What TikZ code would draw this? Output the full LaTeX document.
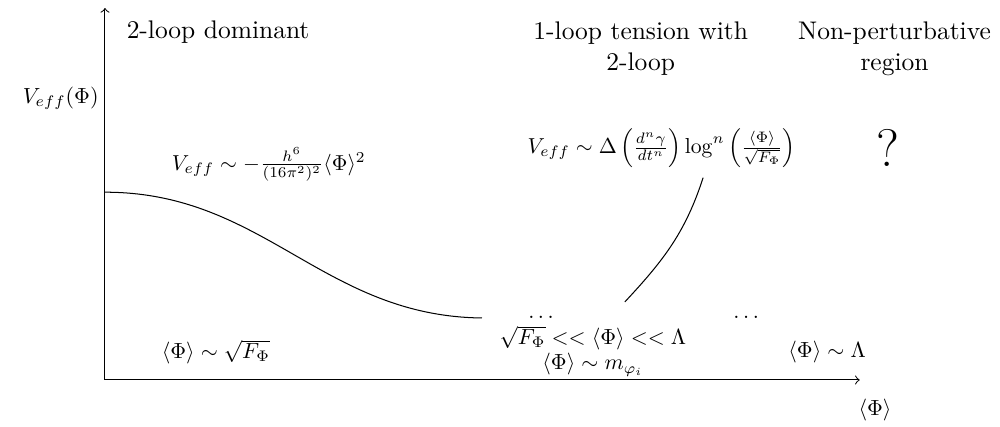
\documentclass[tikz,border=0pt]{standalone}
\usepackage{amsmath}
\usetikzlibrary{positioning}
\tikzset{
  regionlabel/.style={align=center, font=\normalsize},
  formula/.style={inner sep=1pt, scale=0.86, transform shape},
  potential/.style={inner sep=1pt, scale=0.85, transform shape}
}
\begin{document}
\begin{tikzpicture}
  \useasboundingbox (-1.448,-0.648) rectangle (12.345,5.241);
  % Axes
  \coordinate (O) at (0,0);
  \coordinate (xend) at (10.41,0);
  \coordinate (yend) at (0,5.13);
  \draw[->] (O) -- (xend);
  \draw[->] (O) -- (yend);
  \node[formula] (ylabel) at (-0.61,3.89) {$V_{eff}(\Phi)$};
  \node[formula] (xlabel) at (10.62,-0.41) {$\langle\Phi\rangle$};
  % Region titles
  \node[regionlabel] (twoloop) at (1.56,4.80) {2-loop dominant};
  \node[regionlabel] (tension) at (7.39,4.57) {1-loop tension with\\2-loop};
  \node[regionlabel] (nonpert) at (10.89,4.57) {Non-perturbative\\region};
  % Potentials
  \node[potential] (vtwo) at (2.26,2.97) {$V_{eff}\sim -\frac{h^6}{(16\pi^2)^2}\langle\Phi\rangle^2$};
  \node[potential] (vone) at (7.68,3.20) {$V_{eff}\sim\Delta\left(\frac{d^n\gamma}{dt^n}\right)\log^n\left(\frac{\langle\Phi\rangle}{\sqrt{F_\Phi}}\right)$};
  \node[font=\huge] (qmark) at (10.80,3.20) {?};
  % Curves
  \coordinate (c1start) at (0,2.59);
  \coordinate (c1end) at (5.2,0.855);
  \draw (c1start) .. controls (2.2,2.59) and (3.0,0.88) .. (c1end);
  \coordinate (c2start) at (7.17,1.076);
  \coordinate (c2end) at (8.25,2.79);
  \draw (c2start) to[out=47,in=-108] (c2end);
  % Scales
  \node[formula] (dotsa) at (6.04,0.86) {$\dots$};
  \node[formula] (dotsb) at (8.87,0.86) {$\dots$};
  \node[formula] (scalea) at (1.53,0.39) {$\langle\Phi\rangle\sim\sqrt{F_\Phi}$};
  \node[formula] (scaleb) at (6.73,0.58) {$\sqrt{F_\Phi}<<\langle\Phi\rangle<<\Lambda$};
  \node[formula] (scalec) at (6.73,0.21) {$\langle\Phi\rangle\sim m_{\varphi_i}$};
  \node[formula] (scaled) at (9.96,0.39) {$\langle\Phi\rangle\sim\Lambda$};
\end{tikzpicture}
\end{document}
